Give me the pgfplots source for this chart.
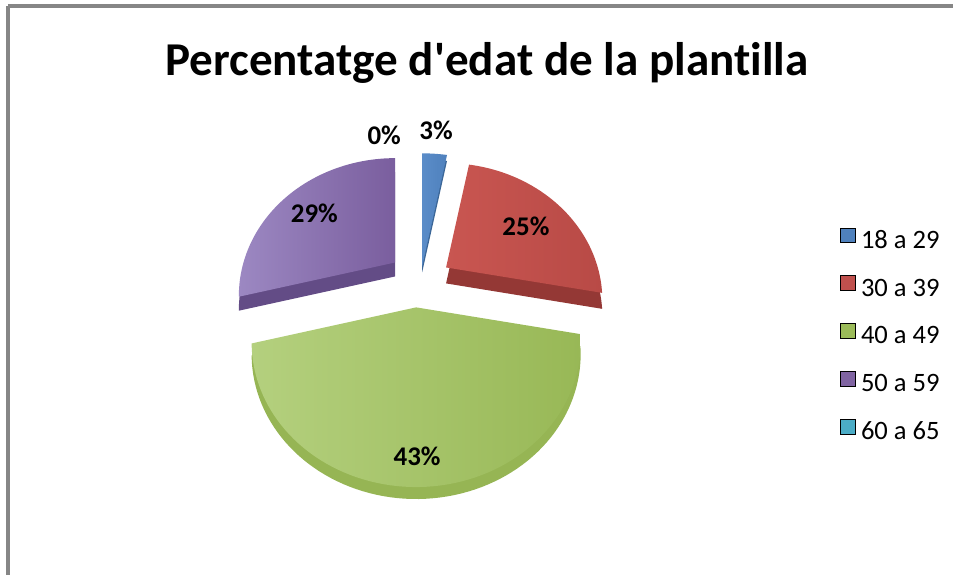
\documentclass[border=0pt]{standalone}
\usepackage{pgfplots}
\pgfplotsset{compat=1.18}
\usepackage{pgfplotstable}
\usepackage{fontspec}
\setmainfont{Carlito}[Ligatures={TeXOff,CommonOff}]
\newfontfamily\titlef{Carlito}[Ligatures={TeXOff,CommonOff}]

\definecolor{cA}{HTML}{4F81BD}
\definecolor{cAl}{HTML}{5A8CC8}
\definecolor{cAd}{HTML}{3B6697}
\definecolor{cB}{HTML}{C0504D}
\definecolor{cBl}{HTML}{C95651}
\definecolor{cBr}{HTML}{B84A46}
\definecolor{cBd}{HTML}{943835}
\definecolor{cC}{HTML}{9BBB59}
\definecolor{cCl}{HTML}{B4D07E}
\definecolor{cCr}{HTML}{98B856}
\definecolor{cCd}{HTML}{96B554}
\definecolor{cD}{HTML}{8064A2}
\definecolor{cDl}{HTML}{9C88C2}
\definecolor{cDr}{HTML}{7A5E9E}
\definecolor{cDd}{HTML}{634C86}
\definecolor{cE}{HTML}{4BACC6}
\definecolor{frame}{HTML}{868686}

\pgfplotstableread[col sep=comma]{
label,pct
18 a 29,3
30 a 39,25
40 a 49,43
50 a 59,29
60 a 65,0
}\agedata

% one slice of a perspective pie: start angle, end angle (clockwise from top),
% apex x, apex y (pixels, y downwards), scale, style
\newcommand\pieslice[6]{%
  \addplot[#6, draw=none, mark=none, forget plot, domain=#1:#2, samples=80, variable=\t]
  ({#3+#5*160*sin(\t)/(1+0.2414*cos(\t))},{#4-#5*136.6*cos(\t)/(1+0.2414*cos(\t))})
  -- (axis cs:#3,#4) -- cycle;}

\pgfplotsset{sqleg/.style={legend image code/.code={\fill[##1] (0pt,-0.25pt) rectangle (7.5pt,7.25pt);}}}

\begin{document}%
\pgfplotstablegetelem{0}{pct}\of\agedata\let\pA\pgfplotsretval%
\pgfplotstablegetelem{1}{pct}\of\agedata\let\pB\pgfplotsretval%
\pgfplotstablegetelem{2}{pct}\of\agedata\let\pC\pgfplotsretval%
\pgfplotstablegetelem{3}{pct}\of\agedata\let\pD\pgfplotsretval%
\pgfplotstablegetelem{4}{pct}\of\agedata\let\pE\pgfplotsretval%
\pgfmathsetmacro\aA{0}%
\pgfmathsetmacro\aB{\aA+3.6*\pA}%
\pgfmathsetmacro\aC{\aB+3.6*\pB}%
\pgfmathsetmacro\aD{\aC+3.6*\pC}%
\pgfmathsetmacro\aE{\aD+3.6*\pD}%
\begin{tikzpicture}
\begin{axis}[
  width=477.5pt, height=288pt, scale only axis,
  xmin=0, xmax=955, ymin=0, ymax=576, y dir=reverse,
  hide axis, clip=false,
  legend style={at={(axis cs:842,228)}, anchor=north west, draw=none, fill=none,
    inner sep=0pt, outer sep=0pt, row sep=10.5pt, column sep=0pt,
    font=\fontsize{13.3}{15}\selectfont,
    nodes={inner xsep=2.5pt, inner ysep=0pt, text height=9pt, text depth=3pt}},
  legend cell align=left,
]
\path (axis cs:0,0) rectangle (axis cs:955,576);
% frame
\draw[frame, line width=2pt] (axis cs:8,6) -- (axis cs:955,6);
\draw[frame, line width=2pt] (axis cs:8,6) -- (axis cs:8,576);

% slices: side (darker, shifted down) then top face
\pieslice{\aA}{\aB}{423}{273}{1.03}{fill=cAd}
\pieslice{\aA}{\aB}{423}{267}{1.03}{left color=cAl, right color=cA}
\pieslice{\aD}{\aE}{396}{277}{0.95}{fill=cDd}
\pieslice{\aD}{\aE}{396}{263}{0.95}{left color=cDl, right color=cDr}
\pieslice{\aB}{\aC}{447}{284}{0.95}{fill=cBd}
\pieslice{\aB}{\aC}{447}{268}{0.95}{left color=cBl, right color=cBr}
\pieslice{\aC}{\aD}{417}{320}{1.0}{fill=cCd}
\pieslice{\aC}{\aD}{417}{308}{1.0}{left color=cCl, right color=cCr}

% data labels
\node[font=\bfseries\fontsize{13.5}{16}\selectfont] at (axis cs:437,131) {3\%};
\node[font=\bfseries\fontsize{13.5}{16}\selectfont] at (axis cs:385,136) {0\%};
\node[font=\bfseries\fontsize{13.5}{16}\selectfont] at (axis cs:527,227) {25\%};
\node[font=\bfseries\fontsize{13.5}{16}\selectfont] at (axis cs:315,214) {29\%};
\node[font=\bfseries\fontsize{13.5}{16}\selectfont] at (axis cs:418,457) {43\%};

% title
\node[anchor=base, font=\titlef\bfseries\fontsize{23.6}{28}\selectfont] at (axis cs:488,76) {Percentatge d'edat de la plantilla};

% legend
\addlegendimage{sqleg, fill=cA}\addlegendentry{18 a 29}
\addlegendimage{sqleg, fill=cB}\addlegendentry{30 a 39}
\addlegendimage{sqleg, fill=cC}\addlegendentry{40 a 49}
\addlegendimage{sqleg, fill=cD}\addlegendentry{50 a 59}
\addlegendimage{sqleg, fill=cE}\addlegendentry{60 a 65}
\end{axis}
\end{tikzpicture}%
\end{document}
